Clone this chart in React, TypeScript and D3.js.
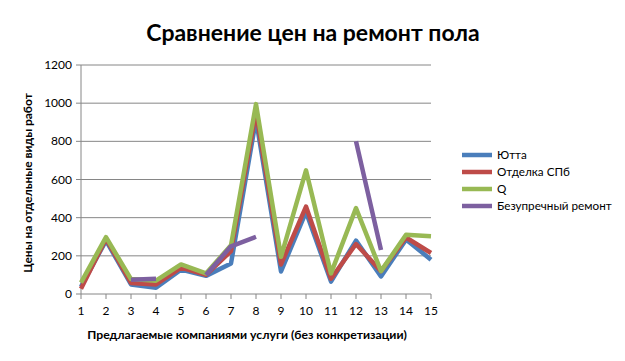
import React from "react";
import * as d3 from "d3";

const categories = [1, 2, 3, 4, 5, 6, 7, 8, 9, 10, 11, 12, 13, 14, 15];
const yutta = [38, 280, 50, 33, 128, 95, 160, 915, 118, 430, 65, 280, 92, 285, 180];
const otdelka = [28, 290, 58, 50, 138, 100, 225, 955, 155, 458, 80, 262, 120, 296, 215];
const q = [60, 298, 78, 70, 155, 108, 255, 995, 195, 648, 108, 450, 120, 310, 302];
const bezuprechny: (number | null)[] = [null, null, 75, 80, null, 100, 250, 300, null, null, null, 800, 230, null, null];
const yTicks = [0, 200, 400, 600, 800, 1000, 1200];

const seriesNames = ["Ютта", "Отделка СПб", "Q", "Безупречный ремонт"];
const seriesColors = ["#4A7EBB", "#BE4B48", "#98B954", "#7D60A0"];
const seriesData: (number | null)[][] = [yutta, otdelka, q, bezuprechny];

const W = 625;
const H = 361;
const font = "Lato, 'Open Sans', sans-serif";

export default function App() {
  const x = d3.scaleLinear().domain([1, 15]).range([81, 431]);
  const y = d3.scaleLinear().domain([0, 1200]).range([294, 65]);
  const line = d3
    .line<number | null>()
    .defined((d) => d !== null)
    .x((_, i) => x(categories[i]))
    .y((d) => y(d as number));

  return (
    <svg width={W} height={H} style={{ position: "absolute", left: 0, top: 0, background: "#fff" }}>
      <rect x={0} y={0} width={W} height={H} fill="#fff" />
      <text x={313} y={41} textAnchor="middle" fontFamily={font} fontWeight="bold" fontSize={23} fill="#000">
        Сравнение цен на ремонт пола
      </text>
      {yTicks.map((t) => (
        <g key={t}>
          <line x1={76} x2={431} y1={y(t)} y2={y(t)} stroke="#868686" strokeWidth={1} />
          <text x={72} y={y(t) + 4} textAnchor="end" fontFamily={font} fontSize={12} fill="#000">
            {t}
          </text>
        </g>
      ))}
      <line x1={81} x2={81} y1={65} y2={294} stroke="#868686" />
      {categories.map((c) => (
        <g key={c}>
          <line x1={x(c)} x2={x(c)} y1={294} y2={299} stroke="#868686" />
          <text x={x(c)} y={315} textAnchor="middle" fontFamily={font} fontSize={12} fill="#000">
            {c}
          </text>
        </g>
      ))}
      {seriesData.map((s, i) => (
        <path
          key={i}
          d={line(s) || ""}
          fill="none"
          stroke={seriesColors[i]}
          strokeWidth={4.5}
          strokeLinejoin="round"
          strokeLinecap="butt"
        />
      ))}
      <text x={247} y={339} textAnchor="middle" fontFamily={font} fontWeight="bold" fontSize={12.2} fill="#000">
        Предлагаемые компаниями услуги (без конкретизации)
      </text>
      <text
        transform={`translate(32,183) rotate(-90)`}
        textAnchor="middle"
        fontFamily={font}
        fontWeight="bold"
        fontSize={12}
        fill="#000"
      >
        Цены на отдельные виды работ
      </text>
      {seriesNames.map((n, i) => (
        <g key={n} transform={`translate(462,${155 + i * 17})`}>
          <line x1={0} x2={30} y1={0} y2={0} stroke={seriesColors[i]} strokeWidth={4.5} />
          <text x={35} y={4} fontFamily={font} fontSize={11.7} fill="#000">
            {n}
          </text>
        </g>
      ))}
    </svg>
  );
}
